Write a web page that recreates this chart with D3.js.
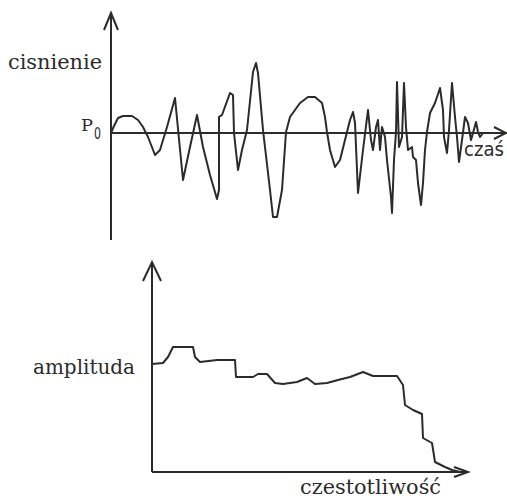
<!DOCTYPE html>
<html>
<head>
<meta charset="utf-8">
<script src="https://cdn.jsdelivr.net/npm/d3@7"></script>
<style>
  html, body { margin: 0; padding: 0; background: #fff; }
  text { fill: #2b2b2b; }
</style>
</head>
<body>
<div id="chart"></div>
<script>
// top panel: pressure vs time (time units, deviation from P0)
const timeValues = [0, 3, 7, 12, 21, 27, 32, 37, 44, 49, 56, 64, 72, 79, 86, 92, 99, 106, 108, 108,
  111, 119, 122, 123, 127, 131, 136, 142, 145, 147, 152, 159, 162, 166, 171, 175, 179, 189, 197, 204,
  211, 214, 216, 219, 224, 229, 236, 239, 242, 244, 247, 252, 257, 260, 262, 265, 267, 269, 271, 274,
  276, 280, 281, 283, 285, 286, 288, 291, 293, 295, 297, 301, 302, 305, 307, 310, 312, 314, 316, 319,
  324, 329, 332, 333, 336, 338, 341, 344, 346, 348, 351, 354, 357, 360, 362, 365, 367, 369, 372];
const pressureValues = [0, 7, 15, 17, 17, 13, 6, -4, -22, -17, 6, 35, -47, -14, 18, -14, -42, -66, -57, 16,
  18, 40, 38, 0, -37, -17, 3, 61, 70, 60, 3, -57, -84, -84, -57, 1, 16, 30, 36, 36,
  30, 16, 1, -17, -34, -27, 1, 13, 21, 10, -60, -17, 23, -7, -17, 6, 13, -17, 6, -4,
  -27, -64, -80, -27, 1, 51, -14, -4, 50, 6, -17, -14, -24, -27, -50, -72, -50, -17, 1, 20,
  30, 45, 23, -4, -20, 3, 50, 16, -4, -29, -7, 16, 10, -7, 0, 11, 1, -4, 0];

// bottom panel: amplitude spectrum
const freqValues = [0, 11, 16, 21, 41, 43, 48, 65, 83, 84, 101, 106, 115, 123, 131, 145, 155, 163, 175, 186,
  198, 211, 221, 245, 251, 253, 261, 270, 271, 280, 283, 293, 300, 308];
const amplitudeValues = [108, 109, 115, 125, 125, 115, 110, 112, 112, 95, 95, 98, 98, 89, 88, 90, 94, 88, 89, 92,
  95, 100, 96, 96, 87, 67, 62, 58, 34, 29, 10, 5, 2, 0];

const labels = {
  pressure: 'cisnienie',
  p0: 'P',
  p0sub: '0',
  time: 'czaś',
  amplitude: 'amplituda',
  freq: 'czestotliwość'
};

const ink = '#2b2b2b';
const W = 507, H = 498;

const svg = d3
  .select('#chart')
  .append('svg')
  .attr('width', W)
  .attr('height', H)
  .style('display', 'block');

function arrowHead(g, tip, dir, len, half) {
  // open chevron at the end of an axis
  const [tx, ty] = tip;
  const pts = dir === 'up'
    ? [[tx - half, ty + len], [tx, ty], [tx + half, ty + len]]
    : [[tx - len, ty - half], [tx, ty], [tx - len, ty + half]];
  g.append('path')
    .attr('d', d3.line()(pts))
    .attr('fill', 'none')
    .attr('stroke', ink)
    .attr('stroke-width', 2)
    .attr('stroke-linejoin', 'miter');
}

// ---------- top panel ----------
const x1 = d3.scaleLinear().domain([0, 396]).range([111, 507]);
const y1 = d3.scaleLinear().domain([-107, 120]).range([240, 13]);

const topPanel = svg.append('g');

topPanel.append('line')
  .attr('x1', x1(0)).attr('x2', x1(0))
  .attr('y1', y1(-107)).attr('y2', y1(120))
  .attr('stroke', ink).attr('stroke-width', 2);
arrowHead(topPanel, [x1(0), y1(120)], 'up', 17, 7);

topPanel.append('line')
  .attr('x1', x1(0)).attr('x2', x1(396))
  .attr('y1', y1(0)).attr('y2', y1(0))
  .attr('stroke', ink).attr('stroke-width', 2);
arrowHead(topPanel, [x1(395), y1(0)], 'right', 12, 6);

topPanel.append('path')
  .datum(timeValues.map((t, i) => [t, pressureValues[i]]))
  .attr('d', d3.line().x((d) => x1(d[0])).y((d) => y1(d[1])))
  .attr('fill', 'none')
  .attr('stroke', ink)
  .attr('stroke-width', 2)
  .attr('stroke-linejoin', 'round');

topPanel.append('text')
  .attr('x', 8).attr('y', 69)
  .attr('textLength', 94).attr('lengthAdjust', 'spacingAndGlyphs')
  .style('font-family', 'DejaVu Serif')
  .style('font-size', '20px')
  .text(labels.pressure);

topPanel.append('text')
  .attr('x', 81).attr('y', 131)
  .attr('textLength', 12).attr('lengthAdjust', 'spacingAndGlyphs')
  .style('font-family', 'DejaVu Serif')
  .style('font-size', '17px')
  .text(labels.p0);
topPanel.append('text')
  .attr('x', 94).attr('y', 139)
  .attr('textLength', 7).attr('lengthAdjust', 'spacingAndGlyphs')
  .style('font-family', 'DejaVu Sans')
  .style('font-size', '15px')
  .text(labels.p0sub);

topPanel.append('text')
  .attr('x', 464).attr('y', 156)
  .attr('textLength', 40).attr('lengthAdjust', 'spacingAndGlyphs')
  .style('font-family', 'DejaVu Sans')
  .style('font-size', '20px')
  .text(labels.time);

// ---------- bottom panel ----------
const x2 = d3.scaleLinear().domain([0, 316]).range([152, 468]);
const y2 = d3.scaleLinear().domain([0, 210]).range([472, 262]);

const bottomPanel = svg.append('g');

bottomPanel.append('line')
  .attr('x1', x2(0)).attr('x2', x2(0))
  .attr('y1', y2(0)).attr('y2', y2(210))
  .attr('stroke', ink).attr('stroke-width', 2);
arrowHead(bottomPanel, [x2(0), y2(210)], 'up', 19, 9);

bottomPanel.append('line')
  .attr('x1', x2(0)).attr('x2', x2(316))
  .attr('y1', y2(0)).attr('y2', y2(0))
  .attr('stroke', ink).attr('stroke-width', 2);
arrowHead(bottomPanel, [x2(316), y2(0)], 'right', 14, 5);

bottomPanel.append('path')
  .datum(freqValues.map((f, i) => [f, amplitudeValues[i]]))
  .attr('d', d3.line().x((d) => x2(d[0])).y((d) => y2(d[1])))
  .attr('fill', 'none')
  .attr('stroke', ink)
  .attr('stroke-width', 2)
  .attr('stroke-linejoin', 'round');

bottomPanel.append('text')
  .attr('x', 33).attr('y', 374)
  .attr('textLength', 102).attr('lengthAdjust', 'spacingAndGlyphs')
  .style('font-family', 'DejaVu Serif')
  .style('font-size', '20px')
  .text(labels.amplitude);

bottomPanel.append('text')
  .attr('x', 300).attr('y', 494)
  .attr('textLength', 141).attr('lengthAdjust', 'spacingAndGlyphs')
  .style('font-family', 'DejaVu Serif')
  .style('font-size', '20px')
  .text(labels.freq);
</script>
</body>
</html>
